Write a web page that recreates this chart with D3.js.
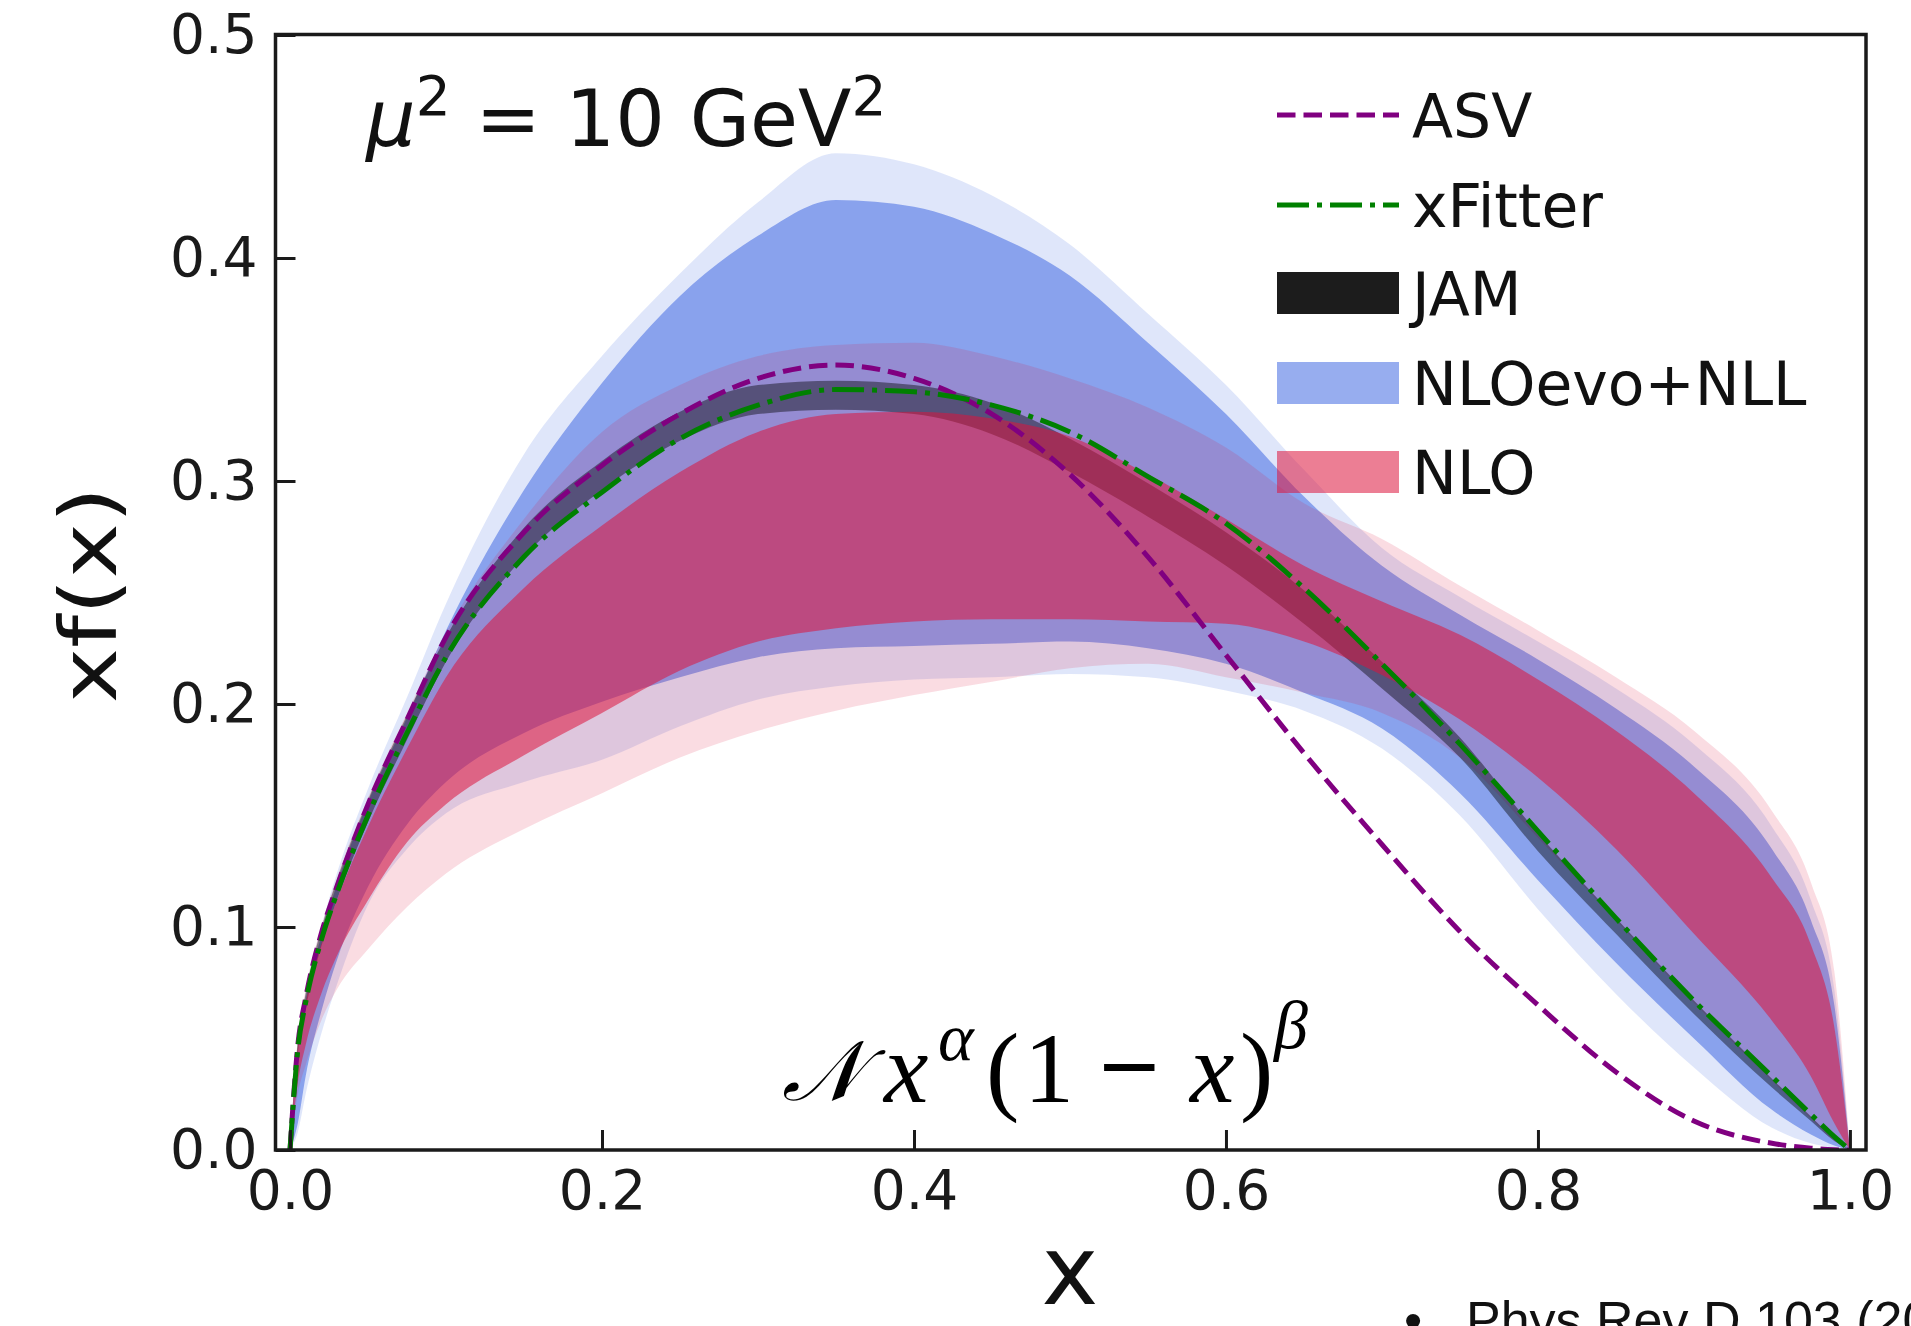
<!DOCTYPE html>
<html>
<head>
<meta charset="utf-8">
<script src="https://cdn.jsdelivr.net/npm/d3@7"></script>
<style>
  html, body { margin: 0; padding: 0; background: #fff; overflow: hidden; }
  svg { display: block; }
</style>
</head>
<body>
<svg id="chart" width="1911" height="1326"></svg>
<script>
var xs = [0, 0.005, 0.01, 0.02, 0.03, 0.05, 0.075, 0.1, 0.15, 0.2, 0.25, 0.3, 0.35, 0.4,
          0.45, 0.5, 0.55, 0.6, 0.65, 0.7, 0.75, 0.8, 0.85, 0.9, 0.95, 0.975, 0.99, 1.0];

var asv     = [0, 0.047, 0.068, 0.097, 0.118, 0.155, 0.193, 0.230, 0.277, 0.307, 0.330, 0.346, 0.352, 0.346,
               0.330, 0.303, 0.266, 0.222, 0.178, 0.137, 0.098, 0.065, 0.035, 0.013, 0.003, 0.0008, 0.0001, 0];
var xfitter = [0, 0.045, 0.066, 0.094, 0.115, 0.150, 0.187, 0.221, 0.266, 0.295, 0.319, 0.334, 0.341, 0.340,
               0.334, 0.322, 0.302, 0.281, 0.252, 0.218, 0.182, 0.143, 0.104, 0.067, 0.033, 0.016, 0.006, 0];

var jamLo = [0, 0.043, 0.063, 0.091, 0.112, 0.147, 0.184, 0.219, 0.266, 0.296, 0.318, 0.330, 0.332, 0.330,
             0.321, 0.304, 0.284, 0.262, 0.236, 0.207, 0.176, 0.134, 0.097, 0.061, 0.028, 0.013, 0.004, 0];
var jamHi = [0, 0.049, 0.070, 0.099, 0.121, 0.157, 0.195, 0.230, 0.279, 0.309, 0.331, 0.343, 0.345, 0.343,
             0.335, 0.319, 0.299, 0.277, 0.251, 0.219, 0.185, 0.142, 0.104, 0.067, 0.032, 0.015, 0.005, 0];

// NLOevo+NLL: outer (light) and inner bands
var nllOuterLo = [0, 0.008, 0.025, 0.052, 0.074, 0.110, 0.135, 0.151, 0.165, 0.175, 0.190, 0.202, 0.208, 0.211,
                  0.212, 0.2135, 0.212, 0.206, 0.197, 0.180, 0.150, 0.108, 0.070, 0.037, 0.010, 0.003, 0.001, 0];
var nllOuterHi = [0, 0.048, 0.071, 0.100, 0.124, 0.162, 0.203, 0.245, 0.312, 0.356, 0.393, 0.425, 0.447, 0.442,
                  0.428, 0.406, 0.375, 0.343, 0.305, 0.270, 0.248, 0.228, 0.207, 0.182, 0.145, 0.112, 0.072, 0];
var nllInnerLo = [0, 0.012, 0.033, 0.062, 0.085, 0.118, 0.146, 0.165, 0.187, 0.201, 0.212, 0.221, 0.225, 0.226,
                  0.227, 0.228, 0.225, 0.218, 0.205, 0.189, 0.160, 0.121, 0.084, 0.050, 0.018, 0.007, 0.002, 0];
var nllInnerHi = [0, 0.045, 0.067, 0.096, 0.119, 0.156, 0.194, 0.233, 0.296, 0.344, 0.383, 0.410, 0.426, 0.423,
                  0.411, 0.392, 0.362, 0.330, 0.293, 0.262, 0.240, 0.220, 0.198, 0.172, 0.135, 0.103, 0.065, 0];

// NLO: outer (light) and inner bands
var nloOuterLo = [0, 0.025, 0.038, 0.058, 0.072, 0.090, 0.109, 0.124, 0.144, 0.160, 0.176, 0.188, 0.197, 0.204,
                  0.210, 0.216, 0.218, 0.212, 0.205, 0.196, 0.176, 0.140, 0.103, 0.066, 0.031, 0.014, 0.004, 0];
var nloOuterHi = [0, 0.050, 0.072, 0.100, 0.122, 0.158, 0.196, 0.232, 0.283, 0.322, 0.343, 0.356, 0.361, 0.362,
                  0.356, 0.346, 0.333, 0.315, 0.290, 0.274, 0.253, 0.233, 0.212, 0.188, 0.152, 0.120, 0.080, 0];
var nloInnerLo = [0, 0.030, 0.047, 0.070, 0.087, 0.112, 0.138, 0.155, 0.177, 0.196, 0.215, 0.228, 0.234, 0.237,
                  0.238, 0.238, 0.237, 0.236, 0.228, 0.213, 0.193, 0.167, 0.135, 0.097, 0.058, 0.033, 0.012, 0];
var nloInnerHi = [0, 0.046, 0.066, 0.092, 0.112, 0.145, 0.180, 0.212, 0.252, 0.280, 0.304, 0.322, 0.330, 0.331,
                  0.328, 0.320, 0.303, 0.283, 0.262, 0.246, 0.231, 0.211, 0.188, 0.160, 0.122, 0.092, 0.055, 0];

var xTicks = [0, 0.2, 0.4, 0.6, 0.8, 1.0];
var yTicks = [0, 0.1, 0.2, 0.3, 0.4, 0.5];

var legendLabels = ["ASV", "xFitter", "JAM", "NLOevo+NLL", "NLO"];

var svg = d3.select("#chart"),
    pL = 275.5, pR = 1866, pT = 34.5, pB = 1150,
    x = d3.scaleLinear().domain([-0.0093, 1.0103]).range([pL, pR]),
    y = d3.scaleLinear().domain([0, 0.5]).range([pB, 35]);

function band(lo, hi) {
    return d3.area()
        .x((d, i) => x(xs[i]))
        .y0((d, i) => y(lo[i]))
        .y1((d, i) => y(hi[i]))
        .curve(d3.curveMonotoneX)(xs);
}
function curve(vals) {
    return d3.line()
        .x((d, i) => x(xs[i]))
        .y((d, i) => y(vals[i]))
        .curve(d3.curveMonotoneX)(xs);
}

svg.append("clipPath").attr("id", "plot-clip")
    .append("rect")
    .attr("x", pL).attr("y", pT)
    .attr("width", pR - pL).attr("height", pB - pT);

var g = svg.append("g").attr("clip-path", "url(#plot-clip)");

// bands, drawn in the same order as the original
g.append("path").attr("d", band(nllOuterLo, nllOuterHi)).attr("fill", "royalblue").attr("fill-opacity", 0.17);
g.append("path").attr("d", band(nllInnerLo, nllInnerHi)).attr("fill", "royalblue").attr("fill-opacity", 0.55);
g.append("path").attr("d", band(nloOuterLo, nloOuterHi)).attr("fill", "crimson").attr("fill-opacity", 0.15);
g.append("path").attr("d", band(jamLo, jamHi)).attr("fill", "black").attr("fill-opacity", 0.42);
g.append("path").attr("d", band(nloInnerLo, nloInnerHi)).attr("fill", "crimson").attr("fill-opacity", 0.55);

g.append("path").attr("d", curve(asv))
    .attr("fill", "none").attr("stroke", "#800080").attr("stroke-width", 5)
    .attr("stroke-dasharray", "18.5,8");
g.append("path").attr("d", curve(xfitter))
    .attr("fill", "none").attr("stroke", "#008000").attr("stroke-width", 5)
    .attr("stroke-dasharray", "32,8,5,8");

// axes: ticks point inwards, labels outside
var xAxis = svg.append("g")
    .attr("transform", "translate(0," + pB + ")")
    .call(d3.axisBottom(x).tickValues(xTicks).tickFormat(d3.format(".1f"))
        .tickSize(-20).tickPadding(20));
var yAxis = svg.append("g")
    .attr("transform", "translate(" + pL + ",0)")
    .call(d3.axisLeft(y).tickValues(yTicks).tickFormat(d3.format(".1f"))
        .tickSize(-20).tickPadding(18));

[xAxis, yAxis].forEach(function(a) {
    a.select(".domain").remove();
    a.selectAll(".tick line").attr("stroke", "#1a1a1a").attr("stroke-width", 3);
    a.selectAll(".tick text")
        .attr("fill", "#1a1a1a")
        .style("font-family", "'DejaVu Sans'")
        .style("font-size", "55px");
});

svg.append("rect")
    .attr("x", pL).attr("y", pT)
    .attr("width", pR - pL).attr("height", pB - pT)
    .attr("fill", "none").attr("stroke", "#1a1a1a").attr("stroke-width", 3.5);

// axis titles
svg.append("text")
    .attr("x", 1070).attr("y", 1304)
    .attr("text-anchor", "middle")
    .style("font-family", "'DejaVu Sans'").style("font-size", "96px")
    .attr("fill", "#111")
    .text("x");
svg.append("text")
    .attr("transform", "translate(116,595) rotate(-90) scale(1.2,1)")
    .attr("text-anchor", "middle")
    .style("font-family", "'DejaVu Sans'").style("font-size", "78px")
    .attr("fill", "#111")
    .text("xf(x)");

// scale annotation
var mu = svg.append("text")
    .attr("x", 366).attr("y", 146)
    .style("font-family", "'DejaVu Sans'").style("font-size", "78px")
    .attr("fill", "#111");
mu.append("tspan").style("font-style", "italic").text("μ");
mu.append("tspan").attr("dy", -31).style("font-size", "55px").text("2");
mu.append("tspan").attr("dy", 31).text(" = 10 GeV");
mu.append("tspan").attr("dy", -31).style("font-size", "55px").text("2");

// fit form
var fs = svg.append("g")
    .style("font-family", "'Liberation Serif', 'DejaVu Serif', serif")
    .attr("fill", "#000");
fs.append("text").attr("x", 782).attr("y", 1100).style("font-size", "84px").style("font-style", "italic").text("𝒩");
fs.append("text").attr("x", 884).attr("y", 1102).style("font-size", "100px").style("font-style", "italic").text("x");
fs.append("text").attr("x", 938).attr("y", 1060).style("font-size", "68px").style("font-style", "italic").text("α");
fs.append("text").attr("x", 986).attr("y", 1102).style("font-size", "100px").text("(");
fs.append("text").attr("x", 1024).attr("y", 1102).style("font-size", "100px").text("1");
fs.append("text").attr("x", 1100).attr("y", 1102).style("font-size", "104px")
    .attr("stroke", "#000").attr("stroke-width", 2).text("−");
fs.append("text").attr("x", 1190).attr("y", 1102).style("font-size", "100px").style("font-style", "italic").text("x");
fs.append("text").attr("x", 1240).attr("y", 1102).style("font-size", "100px").text(")");
fs.append("text").attr("x", 1274).attr("y", 1048).style("font-size", "68px").style("font-style", "italic").text("β");

// legend
var legendY = [115, 205, 293, 383, 472],
    lx0 = 1277, lx1 = 1399,
    leg = svg.append("g");

leg.append("line").attr("x1", lx0).attr("x2", lx1).attr("y1", legendY[0]).attr("y2", legendY[0])
    .attr("stroke", "#800080").attr("stroke-width", 5).attr("stroke-dasharray", "18.5,8");
leg.append("line").attr("x1", lx0).attr("x2", lx1).attr("y1", legendY[1]).attr("y2", legendY[1])
    .attr("stroke", "#008000").attr("stroke-width", 5).attr("stroke-dasharray", "32,8,5,8");
leg.append("rect").attr("x", lx0).attr("y", legendY[2] - 21).attr("width", lx1 - lx0).attr("height", 42)
    .attr("fill", "black").attr("fill-opacity", 0.89);
leg.append("rect").attr("x", lx0).attr("y", legendY[3] - 21).attr("width", lx1 - lx0).attr("height", 42)
    .attr("fill", "royalblue").attr("fill-opacity", 0.55);
leg.append("rect").attr("x", lx0).attr("y", legendY[4] - 21).attr("width", lx1 - lx0).attr("height", 42)
    .attr("fill", "crimson").attr("fill-opacity", 0.55);

leg.selectAll("text.lab")
    .data(legendLabels)
    .enter().append("text")
    .attr("class", "lab")
    .attr("x", 1412)
    .attr("y", (d, i) => legendY[i])
    .attr("dy", "0.36em")
    .style("font-family", "'DejaVu Sans'").style("font-size", "60px")
    .attr("fill", "#111")
    .text(d => d);

// reference note, cut by the bottom edge as in the slide
var note = svg.append("g")
    .style("font-family", "'Liberation Sans'").style("font-size", "52px")
    .attr("fill", "#111");
note.append("text").attr("x", 1404).attr("y", 1338).text("•");
note.append("text").attr("x", 1466).attr("y", 1338).text("Phys Rev D 103 (2021)");
</script>
</body>
</html>
